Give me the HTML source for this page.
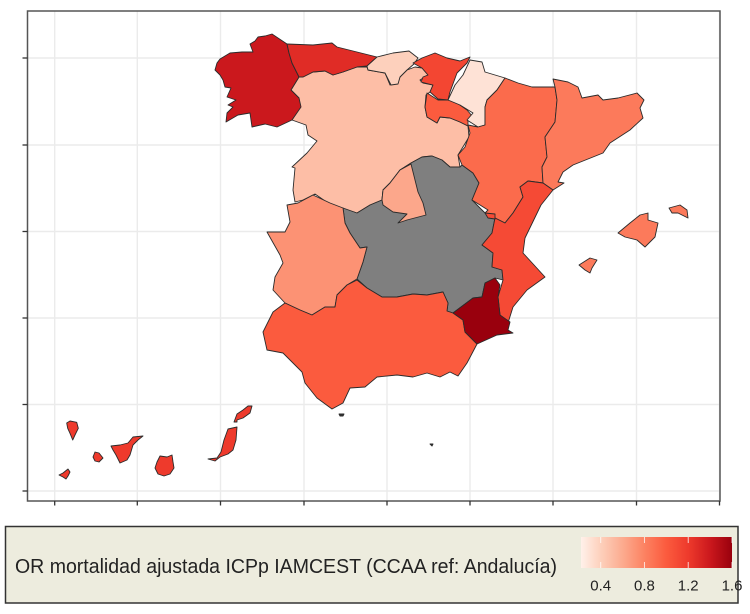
<!DOCTYPE html>
<html lang="es">
<head>
<meta charset="utf-8">
<title>OR mortalidad ajustada ICPp IAMCEST</title>
<style>
html,body{margin:0;padding:0;background:#fff;width:750px;height:614px;overflow:hidden}
svg{display:block;font-family:"Liberation Sans",sans-serif;filter:blur(.3px)}
</style>
</head>
<body>
<svg id="chart" xmlns="http://www.w3.org/2000/svg" width="750" height="614" viewBox="0 0 750 614"></svg>
<script>
// Map domain (projected map units) and tick positions
const xDomain = [0.5, 693];
const yDomain = [-1, 489];
const xTickValues = [27.7, 110.3, 193.5, 277, 360, 443, 526, 609.5, 692.5];
const yTickValues = [9, 95.5, 182, 268.5, 355, 442];

// Legend
const legendTitle = "OR mortalidad ajustada ICPp IAMCEST (CCAA ref: Andalucía)";
const legendDomain = [0.22, 1.6];
const legendTicks = [0.4, 0.8, 1.2, 1.6];
const legendTickLabels = ["0.4", "0.8", "1.2", "1.6"];
const colorValues = [0.22, 0.4, 0.6, 0.8, 1.0, 1.2, 1.4, 1.6];
const colorStops = ["#fff1ea", "#fdd0bc", "#fcab8f", "#fc8262", "#fb5b3e", "#ee3a2c", "#cb181d", "#99000d"];

// Region values (null = no data)
const regionNames = ["castilla-y-leon","castilla-la-mancha","madrid","extremadura","andalucia","galicia","asturias","cantabria","pais-vasco","la-rioja","navarra","aragon","cataluna","valencia","murcia","baleares","canarias","ceuta-melilla"];
const regionValues = [0.5, null, 0.62, 0.72, 1.0, 1.4, 1.28, 0.4, 1.13, 1.0, 0.3, 0.92, 0.84, 1.1, 1.6, 0.84, 1.2, null];

// Region geometry in map units [easting, northing, ...]
const castillaLeon = [[341,430,358,427,363,415,371,417,373,423,380,430,388,433,395,432,401,425,393,420,396,417,406,415,403,408,399,405,398,393,400,383,410,377,413,383,423,382,433,378,441,374,442,363,431,345,433,333,423,333,415,340,405,344,395,343,384,337,373,330,363,317,356,310,355,300,343,295,330,287,320,290,301,297,288,306,276,300,268,298,266,310,268,332,265,333,280,347,290,359,281,365,279,375,265,380,273,393,272,402,264,410,272,423,276,423,286,428,298,429,306,425,316,428,330,433,340,433],[407,413,414,415,420,411,418,408,411,409]];
const castillaMancha = [[384,337,395,343,405,344,415,340,423,333,433,333,435,335,446,327,452,317,445,300,458,287,468,282,465,267,455,255,466,247,465,233,475,230,476,220,468,222,458,217,455,203,446,202,426,187,420,189,421,197,416,208,400,205,386,206,370,203,355,203,340,212,330,221,336,238,340,253,333,252,323,267,318,277,316,292,330,287,343,295,355,300,356,310,363,317,373,330]];
const madrid = [[384,336,373,330,363,317,356,310,355,300,356,295,366,288,380,286,371,277,380,280,399,285,396,297,391,308]];
const extremadura = [[286,305,303,297,316,292,318,277,323,267,333,252,340,253,336,238,330,221,320,215,310,205,308,193,298,193,285,185,273,190,258,197,246,210,248,223,256,237,253,245,240,268,258,268,263,278,260,295,271,297]];
const andalucia = [[330,220,340,212,355,203,370,203,386,206,400,205,416,208,421,197,420,189,426,187,436,180,438,168,450,156,440,137,431,124,423,128,413,123,400,127,386,123,370,125,350,123,338,113,323,112,316,97,305,91,290,102,278,117,275,128,256,147,240,150,236,168,246,188,258,197,273,190,285,185,298,193,308,193,310,205,320,215]];
const galicia = [[188,430,190,437,193,441,203,447,215,448,226,448,223,456,228,459,231,463,238,464,245,466,251,462,260,456,262,447,265,437,272,423,264,410,272,402,274,393,265,380,250,373,238,376,225,373,223,387,211,385,199,378,200,387,206,393,201,395,209,400,200,403,204,412,198,413,196,420,193,425]];
const asturias = [[260,456,286,455,305,457,310,453,326,449,350,443,340,434,330,433,316,428,306,425,298,429,286,428,276,423,272,423,265,437,262,447]];
const cantabria = [[350,443,366,447,382,449,391,442,387,436,380,430,373,423,371,416,364,415,358,427,341,430,340,434]];
const paisVasco = [[386,437,395,442,408,447,420,442,433,439,443,443,440,437,430,427,423,408,421,400,411,401,403,408,406,415,394,418,396,423,401,425,395,432]];
const laRioja = [[400,407,411,400,421,400,430,397,440,390,446,383,441,380,441,374,433,378,423,382,413,383,410,377,400,383,398,393]];
const navarra = [[443,440,455,438,458,428,478,422,470,410,460,400,458,393,458,375,451,373,440,380,446,387,433,395,421,400,428,415,436,425]];
const aragon = [[478,422,491,417,505,413,528,413,530,400,528,378,518,363,520,343,515,333,516,317,501,319,493,313,496,303,486,287,478,277,468,282,458,287,461,290,445,300,452,317,446,327,435,335,431,345,438,353,443,367,441,375,451,373,458,375,458,393,460,400,470,410]];
const cataluna = [[526,421,541,418,551,413,555,402,571,405,576,400,591,402,610,407,617,400,613,392,616,382,603,370,583,357,576,347,546,335,536,328,531,318,537,317,526,310,516,317,515,333,520,343,518,363,528,378,530,400,528,413]];
const valencia = [[516,317,526,310,514,295,498,262,496,247,518,223,500,210,486,193,481,177,473,185,471,203,476,220,475,230,465,233,466,247,455,255,465,267,468,282,478,277,486,287,496,303,493,313,501,319],[458,287,468,286,468,281,461,282]];
const murcia = [[468,222,473,215,471,203,473,185,483,178,481,170,486,167,470,165,450,156,438,168,436,180,426,187,446,202,455,203,458,217]];
const baleares = [[591,267,603,277,613,285,621,287,621,280,631,277,628,263,618,253,610,260,598,263],[642,292,653,295,660,290,661,282,651,287,645,287],[552,235,563,242,570,240,565,232,563,227,558,230]];
const canarias = [[39.7,77,43,79,49.7,77.7,51.3,71.7,48,65,45.7,60,43,66.7,40.7,71.7],[32,25,36,27,41,31,43,28,41,24,39,21,36,23],[66,43,68,48,72,47,76,42,72,38,68,39],[84,54,93,55,101,57,106,63,116,64,111,60,106,55,103,45,100,40,93,37,89,45,86,50],[133,44,140,43,145,45,146,38,147,32,143,26,137,24,131,26,128,32,130,38],[181,41,190,42,194,48,197,60,201,71,210,73,209,60,206,50,201,46,193,43,188,39],[207,78,210,86,216,90,221,94,225,94,223,87,216,82,210,80,210,78]];
const ceutaMelilla = [[312,86,317,86,316,84,313,84],[403,56,406,56,405,54]];
const regionShapes = [castillaLeon,castillaMancha,madrid,extremadura,andalucia,galicia,asturias,cantabria,paisVasco,laRioja,navarra,aragon,cataluna,valencia,murcia,baleares,canarias,ceutaMelilla];

const NS = "http://www.w3.org/2000/svg";
const svg = document.getElementById("chart");
const plot = {left: 27.5, right: 720, top: 11, bottom: 501};
const legendBar = {left: 581, right: 732, top: 537, bottom: 568};

function xScale(v){ return plot.left + (v - xDomain[0]) / (xDomain[1] - xDomain[0]) * (plot.right - plot.left); }
function yScale(v){ return plot.bottom - (v - yDomain[0]) / (yDomain[1] - yDomain[0]) * (plot.bottom - plot.top); }
function legendScale(v){ return legendBar.left + (v - legendDomain[0]) / (legendDomain[1] - legendDomain[0]) * (legendBar.right - legendBar.left); }
function hexToRgb(h){ return [parseInt(h.slice(1,3),16), parseInt(h.slice(3,5),16), parseInt(h.slice(5,7),16)]; }
function colorScale(v){
  if (v === null) return "#7f7f7f";
  const c = Math.max(colorValues[0], Math.min(colorValues[colorValues.length-1], v));
  let i = 0;
  while (i < colorValues.length - 2 && c > colorValues[i+1]) i++;
  const t = (c - colorValues[i]) / (colorValues[i+1] - colorValues[i]);
  const a = hexToRgb(colorStops[i]), b = hexToRgb(colorStops[i+1]);
  return "rgb(" + a.map((x,k)=>Math.round(x + (b[k]-x)*t)).join(",") + ")";
}
function make(tag, attrs, parent){
  const el = document.createElementNS(NS, tag);
  for (const k in attrs) el.setAttribute(k, attrs[k]);
  (parent || svg).appendChild(el);
  return el;
}

// Gridlines
xTickValues.forEach(function(v){
  const g = make("line", {x1:xScale(v), x2:xScale(v), y1:plot.top, y2:plot.bottom, stroke:"#ebebeb", "stroke-width":1.4});
  
  
});
yTickValues.forEach(function(v){
  const g = make("line", {x1:plot.left, x2:plot.right, y1:yScale(v), y2:yScale(v), stroke:"#ebebeb", "stroke-width":1.4});
  
  
});

// Regions
regionNames.forEach(function(name, i){
  const group = make("g", {});
  
  
  regionShapes[i].forEach(function(part){
    let d = "";
    for (let k = 0; k < part.length; k += 2) {
      d += (k ? "L" : "M") + xScale(part[k]).toFixed(1) + " " + yScale(part[k+1]).toFixed(1);
    }
    const p = make("path", {d: d + "Z", fill: name === "ceuta-melilla" ? "#333333" : colorScale(regionValues[i]), stroke:"#2b2b2b", "stroke-width":0.9, "stroke-linejoin":"round"}, group);
    
    
  });
});

// Panel border and ticks
const border = make("rect", {x:plot.left, y:plot.top, width:plot.right-plot.left, height:plot.bottom-plot.top, fill:"none", stroke:"#555555", "stroke-width":1.5});


xTickValues.forEach(function(v){
  const t = make("line", {x1:xScale(v), x2:xScale(v), y1:plot.bottom, y2:plot.bottom+4.5, stroke:"#333333", "stroke-width":1.3});
  
  
});
yTickValues.forEach(function(v){
  const t = make("line", {x1:plot.left-5, x2:plot.left, y1:yScale(v), y2:yScale(v), stroke:"#333333", "stroke-width":1.3});
  
  
});

// Legend
const legendBox = make("rect", {x:5.5, y:526.5, width:732.5, height:76.5, fill:"#edecde", stroke:"#333333", "stroke-width":1.5});


const title = make("text", {x:15, y:573, "font-size":20.5, fill:"#222222", textLength:542, lengthAdjust:"spacingAndGlyphs"});
title.textContent = legendTitle;



const defs = make("defs", {});
const grad = make("linearGradient", {id:"legend-gradient", x1:"0", x2:"1", y1:"0", y2:"0"}, defs);
colorValues.forEach(function(v, i){
  make("stop", {offset:(v-legendDomain[0])/(legendDomain[1]-legendDomain[0]), "stop-color":colorStops[i]}, grad);
});
const bar = make("rect", {x:legendBar.left, y:legendBar.top, width:legendBar.right-legendBar.left, height:legendBar.bottom-legendBar.top, fill:"url(#legend-gradient)"});


legendTicks.forEach(function(v, i){
  const x = legendScale(v);
  const t1 = make("line", {x1:x, x2:x, y1:legendBar.top, y2:legendBar.top+6, stroke:"#ffffff", "stroke-opacity":0.75, "stroke-width":1});
  
  
  const t2 = make("line", {x1:x, x2:x, y1:legendBar.bottom-6, y2:legendBar.bottom, stroke:"#ffffff", "stroke-opacity":0.75, "stroke-width":1});
  
  
  const label = make("text", {x:x, y:590.5, "font-size":15, fill:"#222222", "text-anchor":"middle"});
  label.textContent = legendTickLabels[i];
  
  
});
</script>
</body>
</html>
